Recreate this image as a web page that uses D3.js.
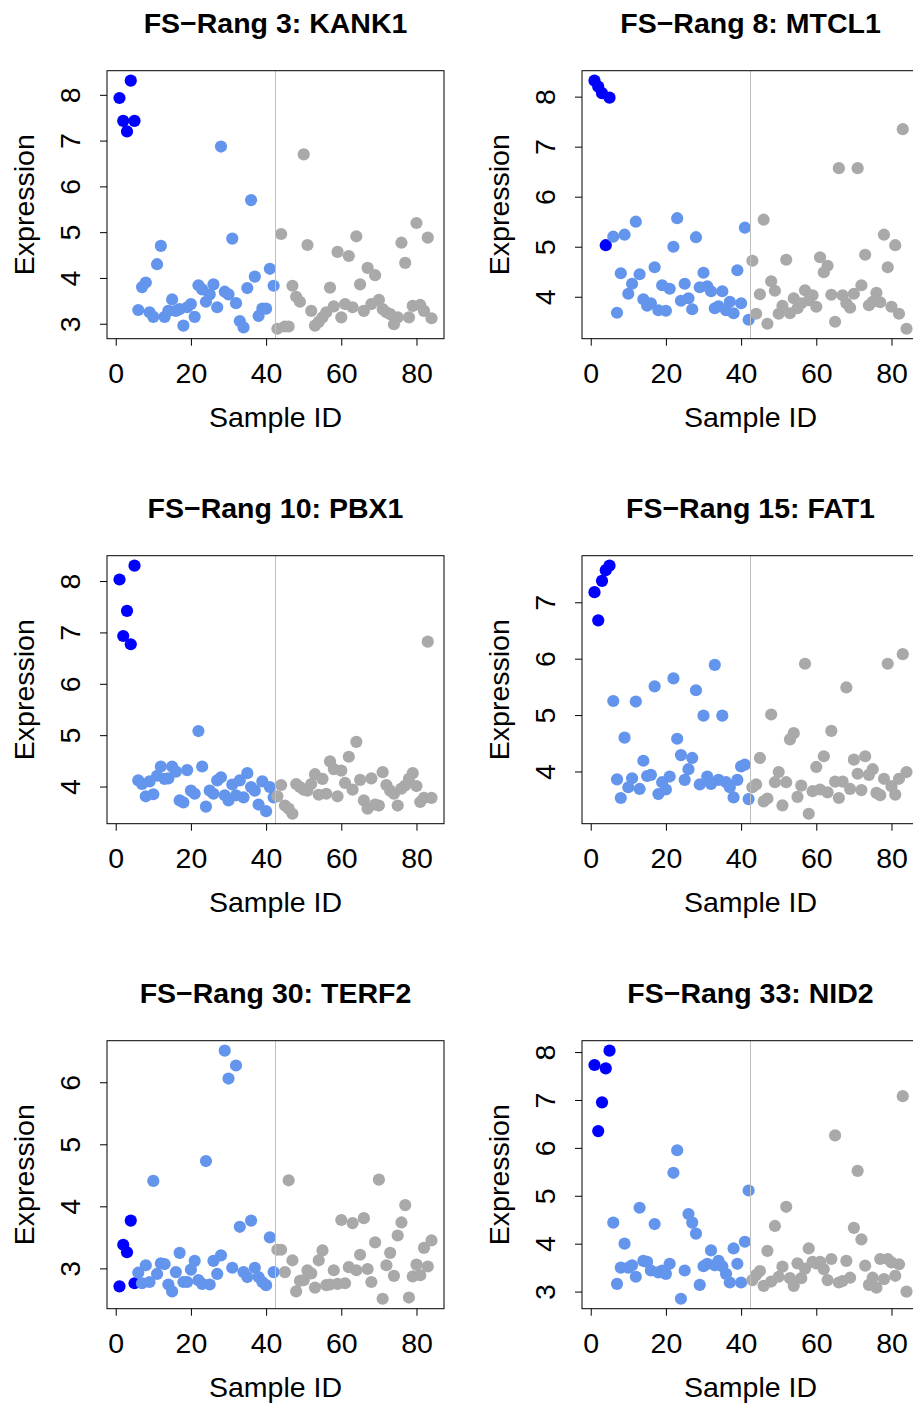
<!DOCTYPE html>
<html>
<head>
<meta charset="utf-8">
<script src="https://cdn.jsdelivr.net/npm/d3@7"></script>
<style>
    body { margin: 0; background: #ffffff; }
    svg text { font-family: "Liberation Sans", Arial, sans-serif; fill: #000; }
</style>
</head>
<body>
<div id="chart"></div>
<script>
/* --------------------------------------------------------------------
   Six gene panels: expression per sample, three sample groups
--------------------------------------------------------------------- */

// panel titles
const titles = [
    "FS\u2212Rang 3: KANK1",
    "FS\u2212Rang 8: MTCL1",
    "FS\u2212Rang 10: PBX1",
    "FS\u2212Rang 15: FAT1",
    "FS\u2212Rang 30: TERF2",
    "FS\u2212Rang 33: NID2"
];

// expression for sample 1..84 (1-5 group A, 6-42 group B, 43-84 group C)
const kank1 = [
    7.93, 7.43, 7.20, 8.31, 7.43,
    3.30, 3.80, 3.90, 3.25, 3.15, 4.30, 4.70, 3.15, 3.28, 3.53, 3.28, 3.32, 2.96, 3.36, 3.43, 3.15, 3.84, 3.75, 3.48,
    3.64, 3.86, 3.36, 6.87, 3.70, 3.64, 4.86, 3.45, 3.06, 2.92, 3.78, 5.70, 4.03, 3.17, 3.33, 3.33, 4.20, 3.83,
    2.89, 4.96, 2.94, 2.94, 3.83, 3.59, 3.48, 6.70, 4.72, 3.28, 2.96, 3.04, 3.14, 3.25, 3.79, 3.38, 4.57, 3.14, 3.43,
    4.48, 3.36, 4.91, 3.86, 3.28, 4.22, 3.43, 4.06, 3.52, 3.32, 3.25, 3.21, 2.99, 3.14, 4.77, 4.33, 3.14, 3.39, 5.20,
    3.41, 3.28, 4.88, 3.12
];
const mtcl1 = [
    8.32, 8.20, 8.07, 5.03, 7.98,
    5.20, 3.68, 4.47, 5.24, 4.06, 4.26, 5.50, 4.45, 3.95, 3.82, 3.87, 4.59, 3.73, 4.23, 3.72, 4.16, 5.00, 5.57, 3.92,
    4.26, 3.97, 3.75, 5.19, 4.19, 4.48, 4.21, 4.11, 3.77, 3.81, 4.11, 3.73, 3.90, 3.67, 4.53, 3.87, 5.38, 3.54,
    4.72, 3.66, 4.05, 5.54, 3.46, 4.31, 4.12, 3.66, 3.82, 4.74, 3.67, 3.97, 3.77, 3.87, 4.13, 3.93, 4.03, 3.80, 4.79,
    4.49, 4.62, 4.04, 3.50, 6.57, 4.03, 3.87, 3.78, 4.06, 6.57, 4.23, 4.84, 3.83, 3.90, 4.08, 3.89, 5.24, 4.59, 3.80,
    5.03, 3.66, 7.35, 3.36
];
const pbx1 = [
    8.03, 6.93, 7.42, 6.77, 8.30,
    4.12, 4.05, 3.81, 4.10, 3.85, 4.21, 4.39, 4.15, 4.16, 4.39, 4.29, 3.73, 3.69, 4.32, 3.92, 3.86, 5.08, 4.39, 3.61,
    3.92, 3.86, 4.12, 4.18, 3.83, 3.73, 4.04, 3.83, 4.12, 3.79, 4.26, 3.99, 3.92, 3.65, 4.10, 3.52, 3.99, 3.79,
    3.81, 4.03, 3.63, 3.57, 3.47, 4.05, 3.99, 3.94, 3.92, 4.05, 4.24, 3.84, 4.15, 3.86, 4.49, 4.34, 3.81, 4.31, 4.07,
    4.58, 3.94, 4.87, 4.13, 3.73, 3.57, 4.16, 3.65, 3.63, 4.28, 4.03, 3.92, 3.86, 3.63, 3.96, 4.02, 4.15, 4.26, 4.01,
    3.70, 3.78, 6.82, 3.78
];
const fat1 = [
    7.18, 6.68, 7.38, 7.57, 7.65,
    5.25, 3.86, 3.53, 4.60, 3.72, 3.88, 5.24, 3.69, 4.19, 3.92, 3.94, 5.51, 3.60, 3.81, 3.68, 3.91, 5.65, 4.58, 4.29,
    3.85, 4.04, 4.24, 5.44, 3.77, 4.99, 3.91, 3.78, 5.89, 3.85, 4.99, 3.81, 3.72, 3.54, 3.85, 4.09, 4.12, 3.51,
    3.72, 3.77, 4.24, 3.47, 3.52, 5.01, 3.81, 3.99, 3.40, 3.81, 4.57, 4.68, 3.55, 3.75, 5.91, 3.25, 3.65, 4.08, 3.68,
    4.27, 3.63, 4.72, 3.82, 3.53, 3.82, 5.49, 3.69, 4.21, 3.96, 3.67, 4.27, 3.94, 4.04, 3.62, 3.58, 3.87, 5.91, 3.74,
    3.59, 3.87, 6.08, 3.99
];
const terf2 = [
    2.71, 3.38, 3.26, 3.77, 2.76,
    2.93, 2.76, 3.05, 2.78, 4.41, 2.91, 3.08, 3.07, 2.74, 2.63, 2.94, 3.25, 2.78, 2.78, 2.98, 3.12, 2.81, 2.75, 4.73,
    2.74, 3.12, 2.91, 3.21, 6.51, 6.06, 3.01, 6.27, 3.67, 2.94, 2.86, 3.77, 3.01, 2.86, 2.78, 2.73, 3.50, 2.94,
    3.30, 3.30, 2.94, 4.42, 3.13, 2.63, 2.80, 2.81, 2.97, 2.92, 2.69, 3.13, 3.29, 2.73, 2.74, 2.97, 2.75, 3.78, 2.76,
    3.02, 3.73, 2.97, 3.22, 3.81, 2.99, 2.78, 3.42, 4.43, 2.51, 3.05, 3.25, 2.88, 3.53, 3.74, 4.02, 2.53, 2.87, 3.06,
    2.89, 3.33, 3.03, 3.45
];
const nid2 = [
    7.73, 6.35, 6.95, 7.66, 8.03,
    4.44, 3.16, 3.50, 4.00, 3.50, 3.55, 3.31, 4.75, 3.64, 3.62, 3.44, 4.41, 3.40, 3.44, 3.37, 3.58, 5.48, 5.95, 2.85,
    3.44, 4.62, 4.44, 4.21, 3.14, 3.53, 3.58, 3.86, 3.55, 3.64, 3.53, 3.37, 3.19, 3.90, 3.58, 3.19, 4.04, 5.11,
    3.24, 3.35, 3.43, 3.12, 3.85, 3.21, 4.37, 3.31, 3.52, 4.77, 3.28, 3.12, 3.59, 3.28, 3.48, 3.90, 3.62, 3.59, 3.62,
    3.47, 3.24, 3.68, 6.26, 3.19, 3.22, 3.64, 3.29, 4.33, 5.52, 4.09, 3.54, 3.14, 3.29, 3.08, 3.68, 3.26, 3.68, 3.61,
    3.33, 3.57, 7.08, 3.00
];

const panelValues = [kank1, mtcl1, pbx1, fat1, terf2, nid2];

const xTicks = [0, 20, 40, 60, 80];
const groupLastId = [5, 42];          // last sample id of group A and B
const groupSplit = 42.5;              // grey separator line
const groupColors = ["#0000ff", "#6495ed", "#a9a9a9"];

document.addEventListener("DOMContentLoaded", () => {

    /* ---------------------------------------------------------------
       1. SVG + layout (3 rows x 2 columns, R style)
    ---------------------------------------------------------------- */

    const width = 913, height = 1403;
    const boxW = 337, boxH = 268;
    const colStep = 475, rowStep = 485;
    const left0 = 107, top0 = 70.7;
    const fontSize = 28.5;

    const svg = d3.select("#chart")
        .append("svg")
        .attr("width", width)
        .attr("height", height);

    svg.append("rect")
        .attr("width", width)
        .attr("height", height)
        .attr("fill", "#ffffff");

    const groupOf = id => id <= groupLastId[0] ? 0 : (id <= groupLastId[1] ? 1 : 2);

    /* ---------------------------------------------------------------
       2. ONE PANEL PER GENE
    ---------------------------------------------------------------- */

    panelValues.forEach((vals, i) => {
        const left = left0 + (i % 2) * colStep;
        const top = top0 + Math.floor(i / 2) * rowStep;

        const pts = vals.map((v, k) => ({ id: k + 1, value: v, group: groupOf(k + 1) }));

        // R default: data range extended by 4% on each side
        const n = vals.length;
        const xPad = (n - 1) * 0.04;
        const x = d3.scaleLinear()
            .domain([1 - xPad, n + xPad])
            .range([left, left + boxW]);

        const ext = d3.extent(vals);
        const yPad = (ext[1] - ext[0]) * 0.04;
        const y = d3.scaleLinear()
            .domain([ext[0] - yPad, ext[1] + yPad])
            .range([top + boxH, top]);

        const yTicks = d3.range(Math.ceil(y.domain()[0]), Math.floor(y.domain()[1]) + 1);

        const g = svg.append("g");

        // points
        g.append("g")
            .selectAll("circle")
            .data(pts)
            .enter()
            .append("circle")
            .attr("cx", d => x(d.id))
            .attr("cy", d => y(d.value))
            .attr("r", 6.1)
            .attr("fill", d => groupColors[d.group]);

        // separator between group B and C
        g.append("line")
            .attr("x1", x(groupSplit))
            .attr("x2", x(groupSplit))
            .attr("y1", top)
            .attr("y2", top + boxH)
            .attr("stroke", "#bebebe")
            .attr("stroke-width", 1);

        // box
        g.append("rect")
            .attr("x", left)
            .attr("y", top)
            .attr("width", boxW)
            .attr("height", boxH)
            .attr("fill", "none")
            .attr("stroke", "#000")
            .attr("stroke-width", 1);

        // x axis
        const xAxis = g.append("g")
            .attr("transform", `translate(0,${top + boxH})`)
            .call(d3.axisBottom(x).tickValues(xTicks).tickSizeOuter(0).tickSize(7).tickPadding(3));
        xAxis.select(".domain").remove();
        xAxis.selectAll(".tick line").attr("stroke", "#000");
        xAxis.selectAll("text")
            .attr("y", 44.5)
            .attr("dy", null)
            .style("font-size", fontSize + "px");

        // y axis, labels parallel to the axis
        const yAxis = g.append("g")
            .attr("transform", `translate(${left},0)`)
            .call(d3.axisLeft(y).tickValues(yTicks).tickFormat(d3.format("d")).tickSizeOuter(0).tickSize(7));
        yAxis.select(".domain").remove();
        yAxis.selectAll(".tick line").attr("stroke", "#000");
        yAxis.selectAll("text")
            .attr("x", null)
            .attr("dy", null)
            .attr("transform", "translate(-27,0) rotate(-90)")
            .attr("text-anchor", "middle")
            .style("font-size", fontSize + "px");

        // axis titles
        g.append("text")
            .attr("x", left + boxW / 2)
            .attr("y", top + boxH + 88.5)
            .attr("text-anchor", "middle")
            .style("font-size", fontSize + "px")
            .text("Sample ID");

        g.append("text")
            .attr("transform", `translate(${left - 73.5},${top + boxH / 2}) rotate(-90)`)
            .attr("text-anchor", "middle")
            .style("font-size", fontSize + "px")
            .text("Expression");

        // panel title
        g.append("text")
            .attr("x", left + boxW / 2)
            .attr("y", top - 37.5)
            .attr("text-anchor", "middle")
            .style("font-size", fontSize + "px")
            .style("font-weight", "bold")
            .text(titles[i]);
    });

});
</script>
</body>
</html>
